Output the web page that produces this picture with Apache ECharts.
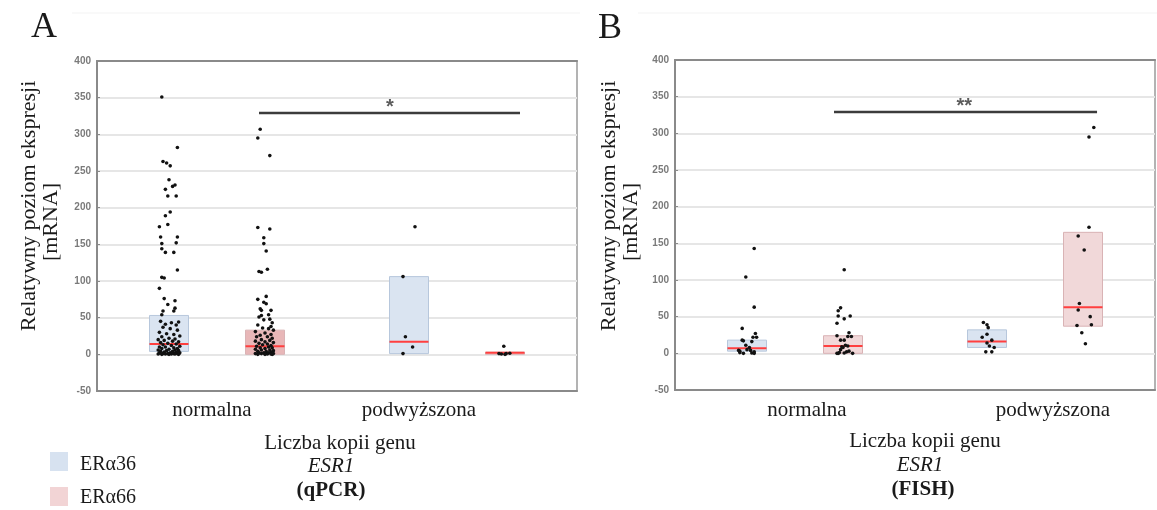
<!DOCTYPE html>
<html>
<head>
<meta charset="utf-8">
<script src="https://cdn.jsdelivr.net/npm/echarts@6/dist/echarts.min.js"></script>
<style>
html,body{margin:0;padding:0;background:#fff;}
#chart{width:1157px;height:510px;}
</style>
</head>
<body>
<div id="chart"></div>
<script>
// ---------- DATA ----------
const categories = ['normalna', 'podwyższona'];
const seriesNames = ['ERα36', 'ERα66'];
const yMin = -50, yMax = 400, yStep = 50;

// boxes: [q1, median, q3] for each category
const qpcrBox36 = [[4, 14, 53], [1, 17, 106]];
const qpcrBox66 = [[0, 11, 33], [0, 2, 3]];
const fishBox36 = [[3, 7, 18], [8, 16, 32]];
const fishBox66 = [[0, 10, 24], [37, 63, 165]];

// points: [jitter, value]
const qpcrNorm36 = [[-0.06,351],[0.07,282],[-0.05,263],[-0.02,261],[0.01,257],[0,238],[0.05,231],[0.03,229],[-0.03,225],[-0.01,216],[0.06,216],[0.01,194],[-0.03,189],[-0.01,177],[-0.08,174],[-0.07,160],[0.07,160],[-0.06,151],[0.06,152],[-0.06,144],[-0.03,139],[0.04,139],[0.07,115],[-0.06,105],[-0.04,104],[-0.08,90],[-0.04,76],[0.05,73],[-0.01,68],[0.05,63],[-0.05,59],[0.04,59],[-0.06,54],
  [-0.07,45],[0.02,43],[-0.03,41],[0.06,40],[0.08,44],[-0.05,37],[0.01,35],[0.07,33],[-0.08,30],[-0.02,28],[0.04,27],[0.09,25],[-0.06,24],[0.0,22],[0.05,21],[-0.09,20],[-0.04,19],[0.03,18],[0.08,17],[-0.07,16],[-0.01,15],[0.06,14],[-0.05,13],[0.02,12],[0.09,11],[-0.08,10],[-0.03,10],[0.04,9],[0.07,8],[-0.06,8],[0.0,7],[-0.09,6],[0.05,6],[-0.02,5],[0.08,5],[-0.07,4],[0.03,4],[-0.04,3],[0.06,3],[0.01,2],[-0.08,2],[0.09,2],[-0.05,1],[-0.01,1],[0.04,1],[0.07,1],[-0.09,0.5],[-0.03,0.5],[0.02,0.5],[0.05,0.5],[-0.06,0],[0.0,0],[0.08,0]];
const qpcrNorm66 = [[-0.04,307],[-0.06,295],[0.04,271],[-0.06,173],[0.04,171],[-0.01,159],[-0.01,151],[0.01,141],[-0.05,113],[-0.03,112],[0.02,116],[0.01,79],[-0.06,75],[-0.01,71],[0.01,69],[-0.04,62],[-0.03,60],[0.05,60],[-0.05,51],[-0.03,53],[0.03,54],[0.04,48],[0.06,43],[-0.01,47],
  [-0.06,40],[0.05,38],[-0.02,36],[0.03,35],[0.07,33],[-0.08,31],[0.0,29],[0.05,27],[-0.04,26],[-0.07,24],[0.02,24],[0.06,22],[-0.03,20],[0.04,19],[-0.08,18],[0.0,17],[0.07,16],[-0.05,15],[0.02,14],[-0.02,13],[0.05,12],[-0.07,11],[0.03,10],[-0.04,9],[0.06,9],[0.0,8],[-0.08,7],[0.04,6],[-0.03,6],[0.07,5],[-0.06,4],[0.01,4],[0.05,3],[-0.05,2],[-0.01,2],[0.03,2],[0.07,1],[-0.08,1],[-0.03,1],[0.02,0.5],[0.05,0.5],[-0.06,0],[0.0,0],[0.06,0]];
const qpcrPodw36 = [[0.05,174],[-0.05,106],[-0.03,24],[0.03,10],[-0.05,1]];
const qpcrPodw66 = [[-0.01,11],[-0.05,1],[-0.03,0.5],[0.01,1],[0.04,1.5],[0,0]];

const fishNorm36 = [[0.06,143],[-0.01,104],[0.06,63],[-0.04,34],[0.07,27],[0.05,22],[0.08,22],[-0.04,18],[-0.03,17],[0.04,16],[-0.01,11],[0.02,8],[-0.07,4],[-0.06,3],[0,5],[0.03,4],[0.06,2],[0.04,0.5],[-0.03,0],[0.06,0],[-0.06,1]];
const fishNorm66 = [[0.01,114],[-0.02,62],[-0.04,58],[0.06,51],[-0.04,51],[0.01,47],[-0.05,41],[0.05,28],[-0.05,24],[0.04,23],[0.07,23],[0.01,18],[-0.02,18],[0.02,11],[-0.01,9],[0.04,10],[0,8],[-0.02,5],[-0.05,0],[-0.04,0],[-0.03,1],[0.01,0.5],[0.03,2],[0.05,3],[0.08,0]];
const fishPodw36 = [[-0.03,42],[0,39],[0.01,35],[0,26],[-0.04,22],[0.04,18],[0,14],[0.02,10],[0.06,8],[-0.01,2],[0.04,2]];
const fishPodw66 = [[0.09,308],[0.05,295],[0.05,172],[-0.04,160],[0.01,141],[-0.03,68],[-0.04,59],[0.06,50],[-0.05,38],[0.07,39],[-0.01,28],[0.02,13]];

// significance bars: [from, to, y] and marks: [text, x, y]
const qpcrSigBar = [1.35, 3.525, 329];
const qpcrSigMark = ['*', 2.44, 343];
const fishSigBar = [1.325, 3.517, 329];
const fishSigMark = ['**', 2.41, 343];

// ---------- BUILD ----------
const catPos = c => 1 + 2 * c;
const seriesOffset = [-0.4, 0.4];
const boxHalf = 0.1625;

const panels = [
  {box: [qpcrBox36, qpcrBox66], pts: [[qpcrNorm36, qpcrPodw36], [qpcrNorm66, qpcrPodw66]], bar: qpcrSigBar, mark: qpcrSigMark},
  {box: [fishBox36, fishBox66], pts: [[fishNorm36, fishPodw36], [fishNorm66, fishPodw66]], bar: fishSigBar, mark: fishSigMark}
];
const boxFill = ['#dae4f1', '#f1d8d9'];
const boxStroke = ['#b7c7dc', '#d9b3b5'];

function renderBox(fill, stroke) {
  return function (params, api) {
    const x = api.value(0), q1 = api.value(1), med = api.value(2), q3 = api.value(3);
    const a = api.coord([x - boxHalf, q3]);
    const b = api.coord([x + boxHalf, q1]);
    const m1 = api.coord([x - boxHalf, med]);
    const m2 = api.coord([x + boxHalf, med]);
    const f = api.style().fill || fill;
    return {
      type: 'group',
      children: [
        {type: 'rect', shape: {x: a[0], y: a[1], width: b[0] - a[0], height: Math.max(b[1] - a[1], 1.5)},
         style: {fill: f, stroke: stroke, lineWidth: 1}},
        {type: 'line', shape: {x1: m1[0], y1: m1[1], x2: m2[0], y2: m2[1]},
         style: {stroke: '#ff3f3f', lineWidth: 2}}
      ]
    };
  };
}

const grids = [
  {left: 97, top: 61, width: 480, height: 330},
  {left: 675, top: 60, width: 480, height: 330}
].map(g => Object.assign(g, {show: true, borderColor: '#9a9a9a', borderWidth: 1.5, backgroundColor: 'transparent'}));

const xAxes = [], yAxes = [], series = [];
panels.forEach((p, gi) => {
  const xv = xAxes.length;
  xAxes.push({type: 'value', gridIndex: gi, min: 0, max: 4, show: false});
  xAxes.push({type: 'category', gridIndex: gi, data: categories, position: 'bottom',
    axisLine: {lineStyle: {color: '#8a8a8a', width: 2}},
    axisTick: {alignWithLabel: true, inside: true, length: 3, lineStyle: {color: '#777'}},
    axisLabel: {show: false}, splitLine: {show: false}});
  xAxes.push({type: 'category', gridIndex: gi, data: categories, position: 'top',
    axisLine: {lineStyle: {color: '#8a8a8a', width: 2}},
    axisTick: {alignWithLabel: true, inside: true, length: 3, lineStyle: {color: '#777'}},
    axisLabel: {show: false}, splitLine: {show: false}});
  yAxes.push({type: 'value', gridIndex: gi, min: yMin, max: yMax, interval: yStep,
    axisLine: {show: true, lineStyle: {color: '#8a8a8a', width: 2}},
    axisTick: {show: true, inside: true, length: 3, lineStyle: {color: '#8a8a8a'}},
    axisLabel: {color: '#7a7a7a', fontSize: 10, fontFamily: 'Liberation Sans', fontWeight: 'bold', margin: 6},
    splitLine: {lineStyle: {color: '#e6e6e6', width: 2}}});

  [0, 1].forEach(s => {
    const boxData = p.box[s].map((q, c) => {
      const item = {value: [catPos(c) + seriesOffset[s], q[0], q[1], q[2]]};
      if (gi === 0 && s === 1 && c === 0) item.itemStyle = {color: '#e8b7b8'};
      return item;
    });
    series.push({type: 'custom', name: seriesNames[s], xAxisIndex: xv, yAxisIndex: gi,
      renderItem: renderBox(boxFill[s], boxStroke[s]), itemStyle: {color: boxFill[s]},
      encode: {x: 0, y: [1, 2, 3]}, data: boxData, z: 2, silent: true});
    const pts = [];
    p.pts[s].forEach((arr, c) => arr.forEach(d => pts.push([catPos(c) + seriesOffset[s] + d[0], d[1]])));
    series.push({type: 'scatter', xAxisIndex: xv, yAxisIndex: gi, data: pts,
      symbolSize: 3.6, itemStyle: {color: '#111', opacity: 1}, z: 5, silent: true});
  });
  series.push({type: 'line', xAxisIndex: xv, yAxisIndex: gi, symbol: 'none',
    data: [[p.bar[0], p.bar[2]], [p.bar[1], p.bar[2]]],
    lineStyle: {color: '#3c3c3c', width: 2.5}, z: 6, silent: true});
  series.push({type: 'scatter', xAxisIndex: xv, yAxisIndex: gi, symbolSize: 1,
    itemStyle: {color: 'transparent'},
    data: [[p.mark[1], p.mark[2]]],
    label: {show: true, position: 'inside', formatter: p.mark[0], color: '#333', fontSize: 20, fontFamily: 'Liberation Sans', fontWeight: 'bold', offset: [0, 5]},
    z: 6, silent: true});
});

// ---------- TEXT ----------
const serif = 'Liberation Serif';
const ink = '#1a1a1a';
function txt(text, x, y, opts) {
  return {type: 'text', x: x, y: y, rotation: (opts && opts.rot) || 0, silent: true,
    style: Object.assign({text: text, fill: ink, fontFamily: serif, fontSize: 21, align: 'center', verticalAlign: 'middle'}, opts && opts.style)};
}
const yTitle = ['Relatywny poziom ekspresji', '[mRNA]'];
const xTitle = ['Liczba kopii genu', 'ESR1'];
const methods = ['(qPCR)', '(FISH)'];
const graphic = [
  {type: 'line', shape: {x1: 72, y1: 13, x2: 580, y2: 13}, style: {stroke: '#f3f3f3', lineWidth: 1}, silent: true},
  {type: 'line', shape: {x1: 638, y1: 13, x2: 1157, y2: 13}, style: {stroke: '#f3f3f3', lineWidth: 1}, silent: true},
  txt('A', 44, 28, {style: {fontSize: 36}}),
  txt('B', 610, 29, {style: {fontSize: 36}}),
  txt(yTitle[0], 29, 206, {rot: Math.PI / 2, style: {fontSize: 22}}),
  txt(yTitle[1], 51, 222, {rot: Math.PI / 2, style: {fontSize: 22}}),
  txt(yTitle[0], 609, 206, {rot: Math.PI / 2, style: {fontSize: 22}}),
  txt(yTitle[1], 631, 222, {rot: Math.PI / 2, style: {fontSize: 22}}),
  txt(categories[0], 212, 410),
  txt(categories[1], 419, 410),
  txt(categories[0], 807, 410),
  txt(categories[1], 1053, 410),
  txt(xTitle[0], 340, 443),
  txt(xTitle[1], 331, 466, {style: {fontStyle: 'italic'}}),
  txt(methods[0], 331, 491, {style: {fontWeight: 'bold'}}),
  txt(xTitle[0], 925, 441),
  txt(xTitle[1], 920, 465, {style: {fontStyle: 'italic'}}),
  txt(methods[1], 923, 490, {style: {fontWeight: 'bold'}}),
  {type: 'rect', shape: {x: 50, y: 452, width: 18, height: 19}, style: {fill: '#d7e2f0'}, silent: true},
  {type: 'rect', shape: {x: 50, y: 487, width: 18, height: 19}, style: {fill: '#f2d4d5'}, silent: true},
  txt(seriesNames[0], 80, 465, {style: {align: 'left', fontSize: 20}}),
  txt(seriesNames[1], 80, 498, {style: {align: 'left', fontSize: 20}})
];

const chart = echarts.init(document.getElementById('chart'), null, {renderer: 'canvas'});
chart.setOption({
  animation: false,
  backgroundColor: '#ffffff',
  grid: grids,
  xAxis: xAxes,
  yAxis: yAxes,
  series: series,
  graphic: graphic
});
</script>
</body>
</html>
